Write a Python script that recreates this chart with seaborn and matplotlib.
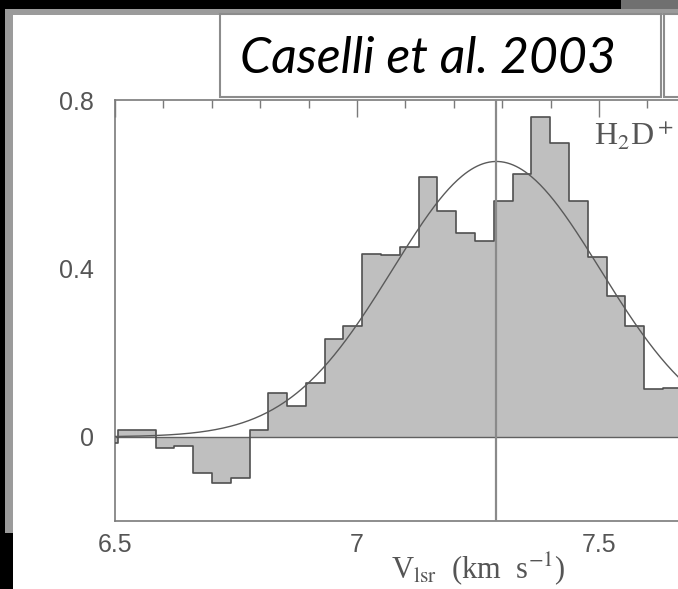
import numpy as np
import matplotlib
matplotlib.use("Agg")
import matplotlib.pyplot as plt
from matplotlib.patches import Rectangle
from matplotlib.ticker import MultipleLocator
import seaborn as sns
import pandas as pd

# ---------------- data ----------------
velocity = [6.487, 6.526, 6.565, 6.603, 6.642, 6.681, 6.720, 6.759,
            6.797, 6.836, 6.875, 6.914, 6.953, 6.991, 7.030, 7.069,
            7.108, 7.147, 7.185, 7.224, 7.263, 7.302, 7.341, 7.379,
            7.418, 7.457, 7.496, 7.535, 7.573, 7.612, 7.651, 7.690]
intensity = [-0.015, 0.015, 0.015, -0.027, -0.023, -0.085, -0.110, -0.099,
             0.015, 0.105, 0.072, 0.127, 0.232, 0.262, 0.434, 0.432,
             0.452, 0.616, 0.537, 0.484, 0.466, 0.559, 0.624, 0.760,
             0.699, 0.560, 0.427, 0.335, 0.264, 0.113, 0.117, 0.117]

# Gaussian fit parameters (peak, centre, dispersion)
fit_peak = 0.654
fit_center = 7.288
fit_sigma = 0.215

x_ticks = [6.5, 7.0, 7.5]
x_tick_labels = ["6.5", "7", "7.5"]
y_ticks = [0.0, 0.4, 0.8]
y_tick_labels = ["0", "0.4", "0.8"]
x_label = r"V$_{\rm lsr}$  (km  s$^{-1}$)"
line_label = r"H$_2$D$^+$"
title_text = "Caselli et al. 2003"

# ---------------- style ----------------
sns.set_style("white")
plt.rcParams["mathtext.fontset"] = "stix"

W, H = 678, 589
PX_PER_UNIT = 484.0
fig = plt.figure(figsize=(W / 100, H / 100), dpi=100, facecolor="black")


def rect(x0, y0, x1, y1, **kw):
    r = Rectangle((x0 / W, 1 - y1 / H), (x1 - x0) / W, (y1 - y0) / H,
                  transform=fig.transFigure, figure=fig, **kw)
    fig.patches.append(r)


# slide-like frame
rect(621, 0, 720, 9, facecolor="#707070", edgecolor="none", zorder=-4)
rect(5, 9, 720, 533, facecolor="#9b9b9b", edgecolor="none", zorder=-3)
rect(13, 15, 720, 620, facecolor="white", edgecolor="none", zorder=-2)

# axes: left at 115 px, bottom at 521 px, top at 100 px; extends past right edge
x_min, x_max = 6.5, 8.0
ax_w = (x_max - x_min) * PX_PER_UNIT
ax = fig.add_axes([115 / W, 1 - 521 / H, ax_w / W, 421 / H])
ax.patch.set_alpha(0)

df = pd.DataFrame({"v": velocity, "T": intensity})
ax.fill_between(df["v"], df["T"], 0, step="mid", color="#bfbfbf", lw=0, zorder=1)
sns.lineplot(data=df, x="v", y="T", drawstyle="steps-mid", color="#505050",
             lw=1.2, ax=ax, zorder=3, legend=False)

vgrid = np.linspace(6.45, 8.0, 500)
model = fit_peak * np.exp(-0.5 * ((vgrid - fit_center) / fit_sigma) ** 2)
sns.lineplot(x=vgrid, y=model, color="#5a5a5a", lw=1.0, ax=ax, zorder=4)

ax.axhline(0, color="#606060", lw=1.0, zorder=2)
ax.axvline(fit_center, color="#8a8a8a", lw=1.6, zorder=5)

ax.set_xlim(x_min, x_max)
ax.set_ylim(-0.2, 0.8)

ax.set_xticks(x_ticks, x_tick_labels)
ax.set_yticks(y_ticks, y_tick_labels)
ax.xaxis.set_minor_locator(MultipleLocator(0.1))
ax.yaxis.set_minor_locator(MultipleLocator(0.05))
ax.tick_params(which="both", direction="in", top=True, right=False,
               color="#7a7a7a", width=1.0, labelcolor="#555555")
ax.tick_params(which="major", length=12)
ax.tick_params(which="minor", length=6)
ax.tick_params(axis="y", which="major", pad=15, labelsize=18)
ax.tick_params(axis="x", which="major", pad=9, labelsize=18)
for lab in ax.get_xticklabels() + ax.get_yticklabels():
    lab.set_family("Liberation Sans")

for side in ["left", "top", "bottom"]:
    ax.spines[side].set_color("#7a7a7a")
    ax.spines[side].set_linewidth(1.2)
ax.spines["right"].set_visible(False)

ax.set_ylabel("")
ax.set_xlabel(x_label, fontsize=22, color="#555555", family="Liberation Serif")
ax.xaxis.set_label_coords(0.5, -(550 - 521) / 421)

ax.text(7.490, 0.693, line_label, fontsize=23, color="#555555",
        family="Liberation Serif", va="baseline", ha="left", zorder=6)

# title box
rect(220, 14, 661, 97, facecolor="white", edgecolor="#8c8c8c", lw=1.5, zorder=5)
rect(664, 14, 760, 97, facecolor="white", edgecolor="#8c8c8c", lw=1.5, zorder=5)
fig.text(428 / W, 1 - 59 / H, title_text, fontsize=36, style="italic",
         family="Lato", ha="center", va="center", color="black", zorder=6)

fig.savefig("out.png", dpi=100, facecolor=fig.get_facecolor())
